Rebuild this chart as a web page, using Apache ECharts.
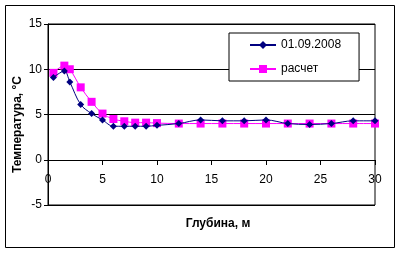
<!DOCTYPE html>
<html>
<head>
<meta charset="utf-8">
<script src="https://cdn.jsdelivr.net/npm/echarts@6/dist/echarts.min.js"></script>
<style>
  html, body { margin: 0; padding: 0; background: #fff; }
  #chart { width: 400px; height: 254px; }
</style>
</head>
<body>
<div id="chart"></div>
<script>
// глубина, м
const depthMeasured = [0.5, 1.5, 2, 3, 4, 5, 6, 7, 8, 9, 10, 12, 14, 16, 18, 20, 22, 24, 26, 28, 30];
const tempMeasured = [9.1, 9.8, 8.6, 6.1, 5.1, 4.4, 3.7, 3.7, 3.7, 3.7, 3.8, 4.0, 4.4, 4.3, 4.3, 4.4, 4.0, 3.9, 4.0, 4.3, 4.3];

const depthCalc = [0.5, 1.5, 2, 3, 4, 5, 6, 7, 8, 9, 10, 12, 14, 16, 18, 20, 22, 24, 26, 28, 30];
const tempCalc = [9.6, 10.4, 10.0, 8.0, 6.4, 5.1, 4.5, 4.25, 4.1, 4.1, 4.05, 4.0, 4.0, 4.0, 4.0, 4.0, 4.0, 4.0, 4.0, 4.0, 4.0];

const seriesNames = ['01.09.2008', 'расчет'];

const chart = echarts.init(document.getElementById('chart'), null, { renderer: 'canvas' });

const font = 'Liberation Sans, Arial, sans-serif';

const option = {
  backgroundColor: '#fff',
  animation: false,
  textStyle: { fontFamily: font },
  graphic: [{
    type: 'rect',
    shape: { x: 5.5, y: 5.5, width: 389, height: 242 },
    style: { fill: null, stroke: '#000', lineWidth: 1 },
    silent: true
  }],
  grid: {
    left: 48, top: 24, right: 25, bottom: 49,
    containLabel: false,
    outerBoundsMode: 'none',
    show: true, borderColor: '#000', borderWidth: 1, backgroundColor: '#fff'
  },
  legend: {
    orient: 'vertical',
    left: 229, top: 33,
    padding: [6, 18, 6, 20],
    itemWidth: 26, itemHeight: 10, itemGap: 12,
    backgroundColor: '#fff', borderColor: '#000', borderWidth: 1,
    textStyle: { fontFamily: font, fontSize: 12, color: '#000' },
    data: seriesNames
  },
  xAxis: {
    type: 'value',
    min: 0, max: 30, interval: 5,
    position: 'bottom',
    offset: -45,
    name: 'Глубина, м',
    nameLocation: 'middle',
    nameGap: 58,
    nameMoveOverlap: false,
    nameTextStyle: { fontFamily: font, fontSize: 12, fontWeight: 'bold', color: '#000', padding: [0, 0, 0, 13] },
    axisLine: { onZero: false, lineStyle: { color: '#000', width: 1 } },
    axisTick: { show: true, length: 5, lineStyle: { color: '#000' } },
    axisLabel: { fontFamily: font, fontSize: 12, color: '#000', margin: 14 },
    splitLine: { show: false }
  },
  yAxis: {
    type: 'value',
    min: -5, max: 15, interval: 5,
    name: 'Температура, °С',
    nameLocation: 'middle',
    nameGap: 24,
    nameMoveOverlap: false,
    nameTextStyle: { fontFamily: font, fontSize: 12, fontWeight: 'bold', color: '#000', padding: [0, 20, 0, 0] },
    axisLine: { show: true, onZero: false, lineStyle: { color: '#000', width: 1 } },
    axisTick: { show: true, length: 4, lineStyle: { color: '#000' } },
    axisLabel: { fontFamily: font, fontSize: 12, color: '#000', margin: 6 },
    splitLine: { show: true, lineStyle: { color: '#000', width: 1 } }
  },
  series: [
    {
      name: seriesNames[0],
      type: 'line',
      data: depthMeasured.map((d, i) => [d, tempMeasured[i]]),
      smooth: 0.35,
      symbol: 'diamond',
      symbolSize: 7,
      z: 3,
      lineStyle: { color: '#000080', width: 1 },
      itemStyle: { color: '#000080' }
    },
    {
      name: seriesNames[1],
      type: 'line',
      data: depthCalc.map((d, i) => [d, tempCalc[i]]),
      smooth: 0.35,
      symbol: 'rect',
      symbolSize: 8,
      z: 2,
      lineStyle: { color: '#ff00ff', width: 1 },
      itemStyle: { color: '#ff00ff' }
    }
  ]
};

chart.setOption(option);
</script>
</body>
</html>
